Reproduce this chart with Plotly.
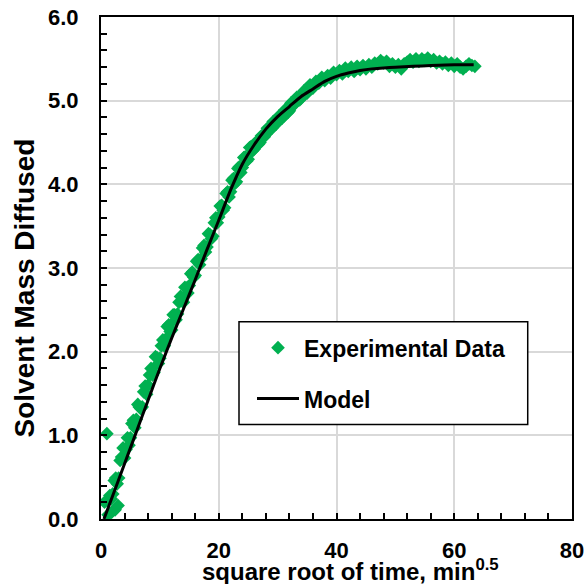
import plotly.graph_objects as go

# ---------------- data ----------------
# rising part, read every quarter unit
exp_x_rise = [0.6, 1.0, 1.2, 1.8, 2.4, 2.9,
              1.50, 1.75, 2.00, 2.25, 2.50, 2.75, 3.00, 3.25, 3.50, 3.75, 4.00, 4.25,
              4.50, 4.75, 5.00, 5.25, 5.50, 5.75, 6.00, 6.25, 6.50, 6.75, 7.00, 7.25,
              7.50, 7.75, 8.00, 8.25, 8.50, 8.75, 9.00, 9.25, 9.50, 9.75, 10.00, 10.25,
              10.50, 10.75, 11.00, 11.25, 11.50, 11.75, 12.00, 12.25, 12.50, 12.75, 13.00, 13.25,
              13.50, 13.75, 14.00, 14.25, 14.50, 14.75, 15.00, 15.25, 15.50, 15.75, 16.00, 16.25,
              16.50, 16.75, 17.00, 17.25, 17.50, 17.75, 18.00, 18.25, 18.50, 18.75, 19.00, 19.25,
              19.50, 19.75, 20.00, 20.25, 20.50, 20.75, 21.00, 21.25, 21.50, 21.75, 22.00, 22.25,
              22.50, 22.75, 23.00, 23.25, 23.50, 23.75, 24.00, 24.25, 24.50, 24.75, 25.00, 25.25,
              25.50, 25.75, 26.00, 26.25, 26.50, 26.75, 27.00, 27.25, 27.50, 27.75, 28.00, 28.25,
              28.50, 28.75, 29.00, 29.25, 29.50, 29.75, 30.00, 30.25, 30.50, 30.75, 31.00, 31.25,
              31.50, 31.75, 32.00, 32.25, 32.50, 32.75, 33.00, 33.25, 33.50, 33.75, 34.00]
exp_y_rise = [0.20, 1.02, 0.05, 0.08, 0.11, 0.16,
              0.28, 0.24, 0.30, 0.46, 0.49, 0.42, 0.49, 0.70, 0.74, 0.85, 0.73, 0.83,
              0.97, 0.88, 0.97, 1.14, 1.18, 1.09, 1.19, 1.37, 1.34, 1.32, 1.34, 1.52,
              1.59, 1.49, 1.60, 1.72, 1.80, 1.72, 1.75, 1.94, 1.93, 1.86, 1.92, 2.07,
              2.14, 2.07, 2.15, 2.30, 2.32, 2.24, 2.26, 2.44, 2.44, 2.38, 2.45, 2.59,
              2.66, 2.61, 2.59, 2.77, 2.76, 2.70, 2.79, 2.93, 2.95, 2.89, 2.91, 3.08,
              3.10, 3.04, 3.11, 3.24, 3.27, 3.19, 3.25, 3.41, 3.40, 3.35, 3.38, 3.54,
              3.60, 3.54, 3.61, 3.74, 3.75, 3.69, 3.72, 3.89, 3.91, 3.85, 3.91, 4.05,
              4.07, 4.01, 4.03, 4.19, 4.21, 4.14, 4.20, 4.32, 4.33, 4.28, 4.30, 4.44,
              4.45, 4.40, 4.42, 4.50, 4.50, 4.48, 4.50, 4.58, 4.59, 4.57, 4.60, 4.67,
              4.67, 4.65, 4.67, 4.75, 4.75, 4.72, 4.75, 4.82, 4.82, 4.79, 4.81, 4.89,
              4.89, 4.86, 4.88, 4.97, 4.98, 4.95, 4.97, 5.04, 5.04, 5.01, 5.03]
# plateau part, read every half unit
exp_x_plateau = [34.5, 35.0, 35.5, 36.0, 36.5, 37.0, 37.5, 38.0, 38.5, 39.0, 39.5, 40.0,
                 40.5, 41.0, 41.5, 42.0, 42.5, 43.0, 43.5, 44.0, 44.5, 45.0, 45.5, 46.0,
                 46.5, 47.0, 47.5, 48.0, 48.5, 49.0, 49.5, 50.0, 50.5, 51.0, 51.5, 52.0,
                 52.5, 53.0, 53.5, 54.0, 54.5, 55.0, 55.5, 56.0, 56.5, 57.0, 57.5, 58.0,
                 58.5, 59.0, 59.5, 60.0, 60.5, 61.0, 61.5, 62.0, 62.5, 63.0, 63.5]
exp_y_plateau = [5.12, 5.09, 5.19, 5.15, 5.23, 5.21, 5.28, 5.24, 5.30, 5.27, 5.34, 5.31,
                 5.36, 5.32, 5.39, 5.35, 5.40, 5.35, 5.41, 5.37, 5.42, 5.38, 5.43, 5.40,
                 5.45, 5.44, 5.48, 5.45, 5.47, 5.41, 5.44, 5.40, 5.43, 5.38, 5.44, 5.46,
                 5.49, 5.46, 5.50, 5.47, 5.50, 5.48, 5.51, 5.47, 5.49, 5.45, 5.47, 5.44,
                 5.46, 5.42, 5.45, 5.41, 5.44, 5.40, 5.38, 5.41, 5.44, 5.42, 5.41]

model_x = [0.5, 2, 4, 6, 8, 10, 12, 14, 16, 18, 20, 22, 24, 26, 28, 30, 32, 34,
           36, 38, 40, 42, 44, 46, 48, 50, 53, 56, 60, 63.3]
model_y = [0.0, 0.28, 0.66, 1.04, 1.42, 1.80, 2.16, 2.51, 2.86, 3.22, 3.57, 3.93,
           4.24, 4.47, 4.66, 4.81, 4.93, 5.05, 5.14, 5.23, 5.29, 5.33, 5.36, 5.38,
           5.39, 5.40, 5.41, 5.42, 5.43, 5.43]

x_ticks = [0, 20, 40, 60, 80]
x_tick_text = ["0", "20", "40", "60", "80"]
y_ticks = [0, 1, 2, 3, 4, 5, 6]
y_tick_text = ["0.0", "1.0", "2.0", "3.0", "4.0", "5.0", "6.0"]

x_title = "<b>square root of time, min<sup>0.5</sup></b>"
y_title = "<b>Solvent Mass Diffused</b>"

FONT = "Liberation Sans, Arial, sans-serif"
GREEN = "#00B050"

fig = go.Figure()
fig.add_trace(go.Scatter(
    x=exp_x_rise + exp_x_plateau, y=exp_y_rise + exp_y_plateau,
    mode="markers", name="<b>Experimental Data</b>",
    marker=dict(symbol="diamond", size=10.5, color=GREEN, line=dict(width=0)),
    legendgroup="a",
))
fig.add_trace(go.Scatter(
    x=model_x, y=model_y, mode="lines", name="<b>Model</b>",
    line=dict(color="black", width=3, shape="spline", smoothing=0.6),
    legendgroup="b",
))

axis_common = dict(
    showline=True, linecolor="black", linewidth=2, mirror=True,
    ticks="inside", ticklen=6, tickwidth=1.5, tickcolor="black",
    showgrid=True, gridcolor="#D9D9D9", gridwidth=2,
    zeroline=False, automargin=False,
    tickfont=dict(family=FONT, size=22, color="black", weight="bold"),
)

fig.update_xaxes(
    range=[0, 80], tickvals=x_ticks, ticktext=x_tick_text,
    minor=dict(dtick=4, ticks="inside", ticklen=6, tickwidth=1.5, tickcolor="black", showgrid=False),
    ticklabelstandoff=11,
    **axis_common,
)
fig.update_yaxes(
    range=[0, 6], tickvals=y_ticks, ticktext=y_tick_text,
    minor=dict(dtick=0.2, ticks="inside", ticklen=6, tickwidth=1.5, tickcolor="black", showgrid=False),
    ticklabelstandoff=16,
    **axis_common,
)

# axis titles (offset from centre as in the reference)
fig.add_annotation(text=x_title, xref="paper", yref="paper", x=0.5305, y=-0.102,
                   xanchor="center", yanchor="middle", showarrow=False,
                   font=dict(family=FONT, size=24, color="black"))
fig.add_annotation(text=y_title, xref="paper", yref="paper", x=-0.162, y=0.4607,
                   xanchor="center", yanchor="middle", showarrow=False, textangle=-90,
                   font=dict(family=FONT, size=28, color="black"))

# legend frame
fig.add_shape(type="rect", xref="paper", yref="paper",
              x0=0.293, x1=0.906, y0=0.188, y1=0.393,
              line=dict(color="black", width=1.5), fillcolor="white", layer="above")

fig.update_layout(
    width=587, height=584,
    margin=dict(l=101, r=15, t=17, b=65),
    plot_bgcolor="white", paper_bgcolor="white",
    showlegend=True,
    legend=dict(x=0.3206, y=0.384, xanchor="left", yanchor="top",
                bgcolor="rgba(0,0,0,0)", borderwidth=0,
                font=dict(family=FONT, size=23, color="black"),
                itemwidth=42, tracegroupgap=18),
)

fig.write_html("out.html", config={"displayModeBar": False},
               post_script="document.body.style.margin='0px';")
